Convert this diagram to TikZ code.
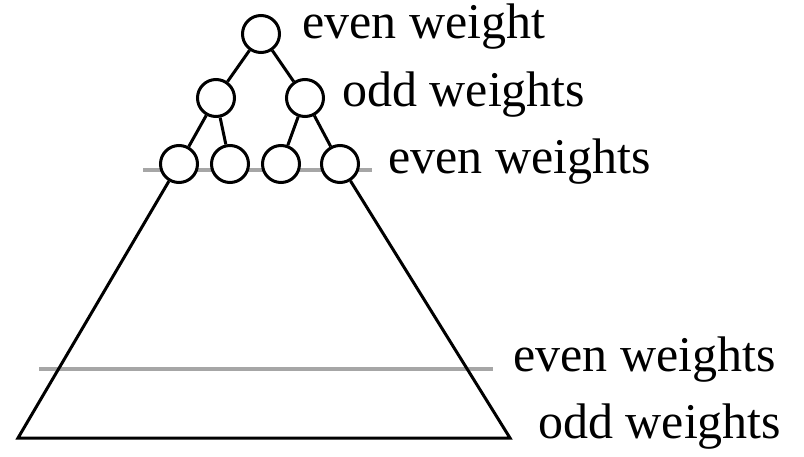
\documentclass[tikz,border=0pt]{standalone}
\usepackage{fontspec}
\setmainfont{Liberation Serif}
\begin{document}
\begin{tikzpicture}[x=1pt,y=-1pt,
  nd/.style={circle,draw=black,line width=3pt,minimum size=37pt,inner sep=0pt,fill=white},
  edge/.style={draw=black,line width=3pt},
  level/.style={draw=black!35,line width=4pt},
  lbl/.style={anchor=base west,inner sep=0pt,font=\fontsize{50}{56}\selectfont}]
\useasboundingbox (0,0) rectangle (804,457);
% grey level lines
\coordinate (g1a) at (143,170);
\coordinate (g1b) at (372,170);
\coordinate (g2a) at (39,369);
\coordinate (g2b) at (493,369);
\draw[level] (g1a) -- (g1b);
\draw[level] (g2a) -- (g2b);
% tree nodes
\node[nd] (r) at (261,34) {};
\node[nd] (a) at (216,98) {};
\node[nd] (b) at (305,98) {};
\node[nd] (c1) at (179,164) {};
\node[nd] (c2) at (230,164) {};
\node[nd] (c3) at (281,164) {};
\node[nd] (c4) at (340,164) {};
\draw[edge] (r) -- (a);
\draw[edge] (r) -- (b);
\draw[edge] (a) -- (c1);
\draw[edge] (a) -- (c2);
\draw[edge] (b) -- (c3);
\draw[edge] (b) -- (c4);
% trapezoid
\coordinate (bl) at (18,438);
\coordinate (br) at (510,438);
\draw[edge,line join=miter] (c1) -- (bl) -- (br) -- (c4);
% labels
\node[lbl] (t1) at (302,39) {even weight};
\node[lbl] (t2) at (342,107) {odd weights};
\node[lbl] (t3) at (388,174) {even weights};
\node[lbl] (t4) at (513,371) {even weights};
\node[lbl] (t5) at (538,438) {odd weights};
\end{tikzpicture}
\end{document}
